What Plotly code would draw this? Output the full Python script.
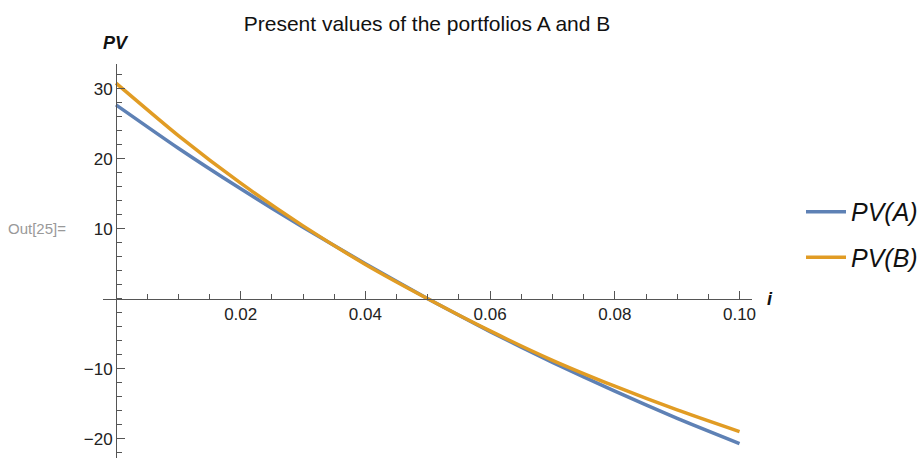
import plotly.graph_objects as go

# Interest rate grid and present values of the two portfolios
rates = [0.00, 0.01, 0.02, 0.03, 0.04, 0.05, 0.06, 0.07, 0.08, 0.09, 0.10]
pv_a = [27.7, 21.5, 15.7, 10.2, 5.0, 0.0, -4.7, -9.1, -13.2, -17.1, -20.7]
pv_b = [30.8, 23.3, 16.5, 10.4, 4.9, 0.0, -4.6, -8.8, -12.5, -15.9, -19.0]

series_names = ["<i>PV(A)</i>", "<i>PV(B)</i>"]
series_colors = ["#5E81B5", "#E19C24"]

x_ticks = [0.02, 0.04, 0.06, 0.08, 0.10]
x_tick_text = ["0.02", "0.04", "0.06", "0.08", "0.10"]
y_ticks = [-20, -10, 10, 20, 30]
y_tick_text = ["\u221220", "\u221210", "10", "20", "30"]

x_range = [-0.002085, 0.1020]
y_range = [-22.76, 33.53]

FONT = "Liberation Sans, Arial, sans-serif"
AXIS_COLOR = "#555555"

fig = go.Figure()
for name, color, values in zip(series_names, series_colors, [pv_a, pv_b]):
    fig.add_trace(go.Scatter(
        x=rates, y=values, mode="lines", name=name,
        line=dict(color=color, width=3.5, shape="spline", smoothing=0.6),
        legendgroup=name,
    ))

# axes cross at the origin
y_axis_pos = (0 - x_range[0]) / (x_range[1] - x_range[0])
x_axis_pos = (0 - y_range[0]) / (y_range[1] - y_range[0])

fig.update_layout(
    width=924, height=458,
    margin=dict(l=103, r=172, t=64, b=0, autoexpand=False),
    paper_bgcolor="white", plot_bgcolor="white",
    font=dict(family=FONT, color="#222222"),
    title=dict(
        text="Present values of the portfolios A and B",
        x=427 / 924, xanchor="center", xref="container",
        y=1 - 24 / 458, yanchor="middle", yref="container",
        font=dict(size=21, color="#111111", family=FONT),
    ),
    xaxis=dict(
        range=x_range, anchor="free", position=x_axis_pos,
        showgrid=False, zeroline=False,
        showline=True, linecolor=AXIS_COLOR, linewidth=1,
        tickmode="array", tickvals=x_ticks, ticktext=x_tick_text,
        ticks="inside", ticklen=8, tickwidth=1, tickcolor=AXIS_COLOR,
        tickfont=dict(size=17, color="#222222", family=FONT),
        minor=dict(tick0=0, dtick=0.005, ticks="inside", ticklen=4.5,
                   tickwidth=1, tickcolor=AXIS_COLOR, showgrid=False),
    ),
    yaxis=dict(
        range=y_range, anchor="free", position=y_axis_pos,
        showgrid=False, zeroline=False,
        showline=True, linecolor=AXIS_COLOR, linewidth=1,
        tickmode="array", tickvals=y_ticks, ticktext=y_tick_text,
        ticks="inside", ticklen=8, tickwidth=1, tickcolor=AXIS_COLOR,
        tickfont=dict(size=17, color="#222222", family=FONT),
        minor=dict(tick0=0, dtick=2, ticks="inside", ticklen=4.5,
                   tickwidth=1, tickcolor=AXIS_COLOR, showgrid=False),
    ),
    showlegend=True,
    legend=dict(
        xref="container", x=801 / 924, xanchor="left",
        y=0.5673, yanchor="middle",
        traceorder="grouped", tracegroupgap=10, itemwidth=40,
        font=dict(size=25, color="#111111", family=FONT),
        bgcolor="rgba(0,0,0,0)",
    ),
)

# axis labels and cell marker
fig.add_annotation(text="<b><i>PV</i></b>", xref="x", x=0, yref="paper",
                   y=1 + (64 - 43) / 394, xanchor="center", yanchor="middle",
                   showarrow=False, font=dict(size=18, color="#111111", family=FONT))
fig.add_annotation(text="<b><i>i</i></b>", xref="paper", x=(770 - 103) / 649,
                   yref="y", y=0, xanchor="center", yanchor="middle",
                   showarrow=False, font=dict(size=18, color="#111111", family=FONT))
fig.add_annotation(text="Out[25]=", xref="paper", x=(6 - 103) / 649,
                   yref="paper", y=1 - (228 - 64) / 394, xanchor="left",
                   yanchor="middle", showarrow=False,
                   font=dict(size=15, color="#999999", family=FONT))

fig.write_html("out.html")
